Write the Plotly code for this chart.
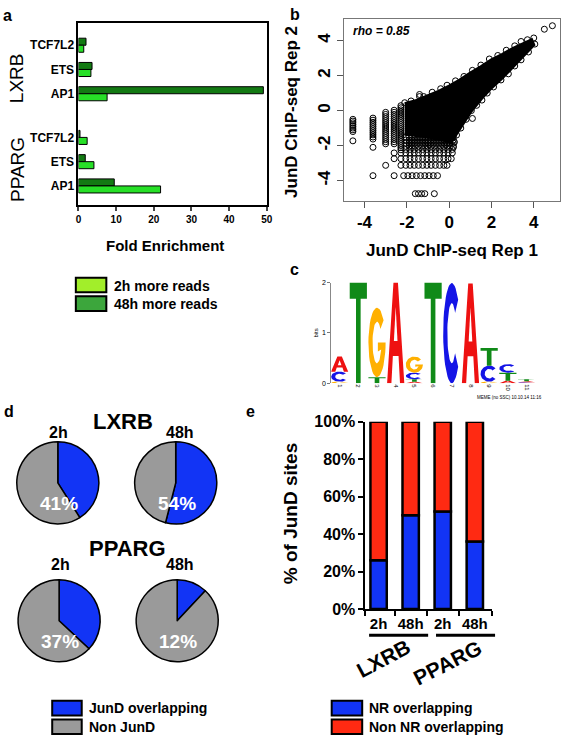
import numpy as np
import plotly.graph_objects as go

W, H = 567, 745
FONT = "Liberation Sans, Arial, Helvetica, sans-serif"


def px(X):
    return X / W


def py(Y):
    return 1 - Y / H


# ---------------- panel a data ----------------
a_motifs = ["TCF7L2", "ETS", "AP1"]
a_groups = ["LXRB", "PPARG"]
a_48h = [2.0, 3.6, 49.1, 0.4, 1.8, 9.5]
a_2h = [1.4, 3.3, 7.6, 2.3, 4.1, 21.8]
a_xticks = [0, 10, 20, 30, 40, 50]

# ---------------- panel b data ----------------
b_ticks = [-4, -2, 0, 2, 4]
b_rho = 0.85
b_cloud_x = [-2.1, -1.5, -1.0, -0.5, 0.0, 0.5, 1.0, 1.5, 2.0, 2.5, 3.0, 3.5, 3.9,
             4.0, 3.5, 3.0, 2.5, 2.0, 1.5, 1.0, 0.5, 0.2, 0.1, -0.6, -1.3, -2.1]
b_cloud_y = [0.4, 0.6, 0.85, 1.1, 1.4, 1.75, 2.15, 2.5, 2.9, 3.2, 3.55, 3.85, 4.05,
             3.75, 3.1, 2.45, 1.85, 1.3, 0.65, -0.1, -1.0, -1.6, -1.8, -1.6, -1.45, -1.35]
b_col_levels = [-4.55, -3.6, -3.0, -2.6, -2.28]
b_col_values = [
    [-0.5, -0.6, -0.7, -0.8, -0.9, -1.0, -1.1, -1.2, -1.73],
    [-0.43, -0.55, -0.67, -0.79, -0.91, -1.03, -1.15, -1.27, -1.39, -1.51, -1.63, -2.1, -3.72],
    [-0.1, -0.22, -0.34, -0.46, -0.58, -0.7, -0.82, -0.94, -1.06, -1.18, -1.3, -1.42, -1.54,
     -1.66, -1.78, -1.9, -3.13],
    [0.02, -0.1, -0.22, -0.34, -0.46, -0.58, -0.7, -0.82, -0.94, -1.06, -1.18, -1.3, -1.42,
     -1.54, -1.66, -1.78, -1.9, -2.42, -2.75, -3.72],
    [0.28, 0.16, 0.04, -0.08, -0.2, -0.32, -0.44, -0.56, -0.68, -0.8, -0.92, -1.04, -1.16,
     -1.28, -1.4, -1.52, -1.64, -1.76, -1.88, -2.0, -2.12, -2.24, -2.42, -2.75, -3.13],
]
b_row_levels = [-1.5, -1.68, -1.86, -2.04, -2.22, -2.42, -2.75, -3.13, -3.72, -4.75]
b_row_values = [
    [-2.05, -1.9, -1.75, -1.6, -1.45, -1.3, -1.15, -1.0, -0.85, -0.7, -0.55, -0.4, -0.25, -0.1, 0.05, 0.2],
    [-2.05, -1.9, -1.75, -1.6, -1.45, -1.3, -1.15, -1.0, -0.85, -0.7, -0.55, -0.4, -0.25, -0.1, 0.05, 0.2],
    [-2.05, -1.9, -1.75, -1.6, -1.45, -1.3, -1.15, -1.0, -0.85, -0.7, -0.55, -0.4, -0.25, -0.1, 0.05, 0.2],
    [-2.05, -1.9, -1.75, -1.6, -1.45, -1.3, -1.15, -1.0, -0.85, -0.7, -0.55, -0.4, -0.25, -0.1, 0.05, 0.2],
    [-2.05, -1.85, -1.65, -1.45, -1.25, -1.05, -0.85, -0.65, -0.45, -0.25, -0.05, 0.15],
    [-2.05, -1.85, -1.65, -1.45, -1.25, -1.05, -0.85, -0.65, -0.45, -0.25, -0.05, 0.15],
    [-2.05, -1.85, -1.65, -1.45, -1.25, -1.05, -0.85, -0.65, -0.45, -0.25, -0.05, 0.1],
    [-2.05, -1.85, -1.65, -1.45, -1.25, -1.05, -0.85, -0.65, -0.45, -0.25, -0.1],
    [-2.15, -1.95, -1.75, -1.55, -1.35, -1.15, -0.95, -0.75, -0.55],
    [-1.6, -1.45, -1.3, -1.15, -0.7],
]
b_edge_x = [-2.1, -1.8, -1.4, -1.4, -1.2, -0.8, -0.4, -0.1, 0.3, 0.7, 1.1, 1.5, 1.9, 2.3,
            2.7, 3.1, 3.4, 3.7, 4.0, 4.5, 4.88,
            4.05, 3.75, 3.4, 3.1, 2.8, 2.45, 2.1, 1.8, 1.55, 1.3, 1.1, 1.05, 0.8, 0.55,
            0.35, 0.25, 0.2]
b_edge_y = [0.45, 0.55, 0.92, 0.8, 0.8, 1.05, 1.25, 1.45, 1.7, 1.95, 2.3, 2.6, 2.95, 3.15,
            3.45, 3.7, 3.95, 4.05, 4.15, 4.65, 4.85,
            3.8, 3.35, 2.9, 2.55, 2.1, 1.75, 1.35, 1.0, 0.6, 0.3, -0.45, 0.0, -0.5, -1.0,
            -1.4, -1.8, -2.1]

# ---------------- panel c data (sequence logo) ----------------
logo_positions = list(range(1, 12))
logo_letters = ["GCA", "T", "TG", "A", "ATCG", "T", "C", "A", "GCT", "ATC", "CAT"]
logo_heights = [
    [0.03, 0.2, 0.3],
    [2.0],
    [0.12, 1.38],
    [2.0],
    [0.03, 0.05, 0.13, 0.32],
    [2.0],
    [1.99],
    [1.98],
    [0.03, 0.32, 0.35],
    [0.05, 0.16, 0.17],
    [0.02, 0.02, 0.04],
]
logo_colors = {"A": "#EE1111", "C": "#1414E6", "G": "#FFB000", "T": "#108A18"}

# ---------------- panel d data ----------------
d_groups = ["LXRB", "PPARG"]
d_times = ["2h", "48h"]
d_jund = [41, 54, 37, 12]

# ---------------- panel e data ----------------
e_labels = ["2h", "48h", "2h", "48h"]
e_groups = ["LXRB", "PPARG"]
e_nr = [26, 50, 52, 36]

DARK_G = "#137A13"
LIGHT_G = "#27E027"
LEG_2H = "#A2EE2A"
LEG_48H = "#3CA63C"
BLUE = "#1234F5"
GRAY = "#9A9A9A"
RED = "#FF2A12"

fig = go.Figure()

# ---- panel a bars ----
a_pos = [g * 3.8 + i for g in range(len(a_groups)) for i in range(len(a_motifs))]
fig.add_trace(go.Bar(orientation="h", x=a_48h, y=a_pos, width=0.29, offset=-0.29,
                     marker=dict(color=DARK_G, line=dict(color="black", width=1)),
                     xaxis="x", yaxis="y", showlegend=False, hoverinfo="skip"))
fig.add_trace(go.Bar(orientation="h", x=a_2h, y=a_pos, width=0.29, offset=0,
                     marker=dict(color=LIGHT_G, line=dict(color="black", width=1)),
                     xaxis="x", yaxis="y", showlegend=False, hoverinfo="skip"))

# ---- panel b scatter ----
fig.add_trace(go.Scatter(x=b_cloud_x, y=b_cloud_y, fill="toself", fillcolor="black",
                         mode="lines", line=dict(color="black", width=3),
                         xaxis="x2", yaxis="y2", showlegend=False, hoverinfo="skip"))
sx, sy = [], []
for lv, vals in zip(b_col_levels, b_col_values):
    sx += [lv] * len(vals)
    sy += vals
for lv, vals in zip(b_row_levels, b_row_values):
    sx += vals
    sy += [lv] * len(vals)
sx += b_edge_x
sy += b_edge_y
fig.add_trace(go.Scatter(x=sx, y=sy, mode="markers",
                         marker=dict(symbol="circle-open", size=6, color="black",
                                     line=dict(width=1, color="black")),
                         xaxis="x2", yaxis="y2", showlegend=False, hoverinfo="skip"))


# ---- panel c logo glyphs ----
def glyph(letter):
    """Return list of (xs, ys, color) polygons in a unit box."""
    col = logo_colors[letter]
    if letter == "T":
        xs = [0, 1, 1, 0.635, 0.635, 0.365, 0.365, 0, 0]
        ys = [1, 1, 0.84, 0.84, 0, 0, 0.84, 0.84, 1]
        return [(xs, ys, col)]
    if letter == "A":
        xs = [0, 0.37, 0.63, 1, 0.75, 0.665, 0.335, 0.25, 0]
        ys = [0, 1, 1, 0, 0, 0.27, 0.27, 0, 0]
        hx = [0.395, 0.5, 0.605, 0.395]
        hy = [0.42, 0.76, 0.42, 0.42]
        return [(xs, ys, col), (hx, hy, "white")]
    if letter == "C":
        t = np.radians(np.linspace(42, 318, 40))
        xs = list(0.5 + 0.5 * np.cos(t)) + list(0.5 + 0.26 * np.cos(t[::-1]))
        ys = list(0.5 + 0.5 * np.sin(t)) + list(0.5 + 0.3 * np.sin(t[::-1]))
        return [(xs + [xs[0]], ys + [ys[0]], col)]
    if letter == "G":
        t = np.radians(np.linspace(40, 360, 40))
        ti = np.radians(np.linspace(340, 40, 36))
        xs = list(0.5 + 0.5 * np.cos(t)) + [0.55, 0.55] + list(0.5 + 0.26 * np.cos(ti))
        ys = list(0.5 + 0.5 * np.sin(t)) + [0.5, 0.37] + list(0.5 + 0.3 * np.sin(ti))
        return [(xs + [xs[0]], ys + [ys[0]], col)]
    return []


for pos, letters, hts in zip(logo_positions, logo_letters, logo_heights):
    base = 0.0
    for letter, h in zip(letters, hts):
        for xs, ys, col in glyph(letter):
            gx = [pos - 0.46 + 0.92 * v for v in xs]
            gy = [base + h * v for v in ys]
            fig.add_trace(go.Scatter(x=gx, y=gy, fill="toself", fillcolor=col,
                                     mode="lines", line=dict(width=0, color=col),
                                     xaxis="x3", yaxis="y3", showlegend=False,
                                     hoverinfo="skip"))
        base += h

# ---- panel d pies ----
pie_centers = [(55.7, 486), (175.5, 486), (57, 627), (177, 627)]
R = 42
for (cx, cy), v in zip(pie_centers, d_jund):
    fig.add_trace(go.Pie(values=[v, 100 - v], sort=False, direction="clockwise",
                         rotation=0,
                         marker=dict(colors=[BLUE, GRAY], line=dict(color="black", width=1.5)),
                         textinfo="none", hoverinfo="skip", showlegend=False,
                         domain=dict(x=[px(cx - R), px(cx + R)], y=[py(cy + R), py(cy - R)])))

# ---- panel e stacked bars ----
e_x = list(range(len(e_nr)))
fig.add_trace(go.Bar(x=e_x, y=e_nr, base=0, width=0.51,
                     marker=dict(color=BLUE, line=dict(color="black", width=2.5)),
                     xaxis="x4", yaxis="y4", showlegend=False, hoverinfo="skip",
                     cliponaxis=False))
fig.add_trace(go.Bar(x=e_x, y=[100 - v for v in e_nr], base=e_nr, width=0.51,
                     marker=dict(color=RED, line=dict(color="black", width=2.5)),
                     xaxis="x4", yaxis="y4", showlegend=False, hoverinfo="skip",
                     cliponaxis=False))


def ann(text, X, Y, size, bold=True, color="black", xanchor="center", angle=0):
    return dict(text=text, x=px(X), y=py(Y), xref="paper", yref="paper",
                showarrow=False, xanchor=xanchor, yanchor="middle", textangle=angle,
                font=dict(family=FONT, size=size, color=color,
                          weight="bold" if bold else "normal"))


annotations = [
    ann("a", 5, 8, 16), ann("b", 297, 7, 16), ann("c", 296, 268, 16),
    ann("d", 6, 413, 16), ann("e", 251, 413, 16),
    # panel a
    ann("Fold Enrichment", 165, 243, 15),
    ann(a_groups[0], 14, 72, 19, bold=False, angle=-90),
    ann(a_groups[1], 14, 165, 19, bold=False, angle=-90),
    ann("2h more reads", 111, 284, 14, xanchor="left"),
    ann("48h more reads", 111, 303, 14, xanchor="left"),
    # panel b
    ann("JunD ChIP-seq Rep 1", 456.7, 248, 17),
    ann("JunD ChIP-seq Rep 2", 293, 106, 17, angle=-90),
    ann("<i>rho = %.2f</i>" % b_rho, 354, 24, 12, xanchor="left"),
    # panel c
    ann("MEME (no SSC) 10.10.14 11:16", 515, 399, 4.5, bold=False),
    # panel d
    ann(d_groups[0], 121.7, 423, 22), ann(d_groups[1], 126, 553, 22),
    ann(d_times[0], 56.7, 434, 16), ann(d_times[1], 180, 434, 16),
    ann(d_times[0], 58, 570, 16), ann(d_times[1], 180, 570, 16),
    ann("JunD overlapping", 85, 716.5, 14, xanchor="left"),
    ann("Non JunD", 85, 736, 14, xanchor="left"),
    # panel e
    ann("% of JunD sites", 291.7, 518, 19, angle=-90),
    ann(e_groups[0], 386.7, 666, 21, angle=-28),
    ann(e_groups[1], 452, 670, 21, angle=-27),
    ann("NR overlapping", 370, 716.5, 14, xanchor="left"),
    ann("Non NR overlapping", 370, 736, 14, xanchor="left"),
]
for (cx, cy), v in zip(pie_centers, d_jund):
    annotations.append(ann("%d%%" % v, cx + 1, cy + 21, 19, color="white"))

shapes = []


def rect(x0, y0, x1, y1, color):
    return dict(type="rect", xref="paper", yref="paper", x0=px(x0), x1=px(x1),
                y0=py(y1), y1=py(y0), fillcolor=color, line=dict(color="black", width=2))


shapes += [rect(74, 276, 105, 291, LEG_2H), rect(74, 295, 105, 310, LEG_48H),
           rect(50, 709, 80, 724, BLUE), rect(50, 728, 80, 743, GRAY),
           rect(334, 709, 365, 724, BLUE), rect(334, 728, 365, 743, RED)]
shapes += [dict(type="line", xref="paper", yref="paper", x0=px(372), x1=px(432),
                y0=py(642), y1=py(642), line=dict(color="black", width=3)),
           dict(type="line", xref="paper", yref="paper", x0=px(440), x1=px(500),
                y0=py(642), y1=py(642), line=dict(color="black", width=3))]

bold = dict(family=FONT, color="black", weight="bold")

fig.update_layout(
    width=W, height=H, margin=dict(l=0, r=0, t=0, b=0, pad=0),
    paper_bgcolor="white", plot_bgcolor="white", barmode="overlay",
    annotations=annotations, shapes=shapes,
    font=dict(family=FONT, color="black"),
    # panel a
    xaxis=dict(domain=[px(76.7), px(268)], anchor="y", range=[0, 50], tickvals=a_xticks,
               ticks="outside", ticklen=4, tickwidth=1.5, showline=True, linewidth=2,
               linecolor="black", mirror=True, showgrid=False, zeroline=False,
               tickfont=dict(bold, size=10)),
    yaxis=dict(domain=[py(201.7), py(15)], anchor="x", range=[6.59, -0.93],
               tickvals=a_pos, ticktext=a_motifs * len(a_groups), ticks="",
               showline=True, linewidth=2, linecolor="black", mirror=True,
               showgrid=False, zeroline=False, tickfont=dict(bold, size=12)),
    # panel b
    xaxis2=dict(domain=[px(346.7), px(566)], anchor="y2", range=[-4.96, 5.24],
                tickvals=b_ticks, ticktext=[str(t) for t in b_ticks], ticks="outside",
                ticklen=6, tickcolor="#555", showline=True, linewidth=1, linecolor="#777",
                mirror=True, showgrid=False, zeroline=False, tickfont=dict(bold, size=17)),
    yaxis2=dict(domain=[py(197), py(11.7)], anchor="x2", range=[-5.14, 5.21],
                tickvals=b_ticks, ticktext=[str(t) for t in b_ticks], ticks="outside",
                ticklen=6, tickcolor="#555", tickangle=-90, showline=True, linewidth=1,
                linecolor="#777", mirror=True, showgrid=False, zeroline=False,
                tickfont=dict(bold, size=17)),
    # panel c
    xaxis3=dict(domain=[px(333.5), px(543.4)], anchor="y3", range=[0.55, 11.6],
                tickvals=logo_positions, ticktext=[str(p) for p in logo_positions],
                tickangle=90, ticks="", showline=False, showgrid=False, zeroline=False,
                tickfont=dict(size=6, color="black", family=FONT)),
    yaxis3=dict(domain=[py(384), py(281)], anchor="x3", range=[0, 2], tickvals=[0, 1, 2],
                ticks="outside", ticklen=3, tickcolor="#777", showline=True,
                linecolor="#888", linewidth=1, showgrid=False, zeroline=False,
                tickfont=dict(size=7, color="black", family=FONT),
                title=dict(text="bits", font=dict(size=6, family=FONT), standoff=2)),
    # panel e
    xaxis4=dict(domain=[px(368.3), px(496.7)], anchor="y4", range=[-0.41, 3.53],
                tickvals=e_x, ticktext=e_labels, ticks="", showline=True, linewidth=2,
                linecolor="black", showgrid=False, zeroline=False,
                tickfont=dict(bold, size=15),
                minor=dict(tickvals=[-0.41, 0.5, 1.5, 2.5, 3.53], ticks="outside",
                           ticklen=5, tickwidth=2, tickcolor="black", showgrid=False)),
    yaxis4=dict(domain=[py(615), py(423.3)], anchor="x4", range=[0, 100],
                tickvals=[0, 20, 40, 60, 80, 100],
                ticktext=["%d%%" % v for v in [0, 20, 40, 60, 80, 100]],
                ticks="outside", ticklen=5, tickwidth=2, tickcolor="black",
                showline=True, linewidth=2, linecolor="black", showgrid=False,
                zeroline=False, tickfont=dict(bold, size=16)),
)

fig.write_html("out.html", config={"displayModeBar": False},
               post_script="document.body.style.margin='0';"
                           "document.body.style.overflow='hidden';")
